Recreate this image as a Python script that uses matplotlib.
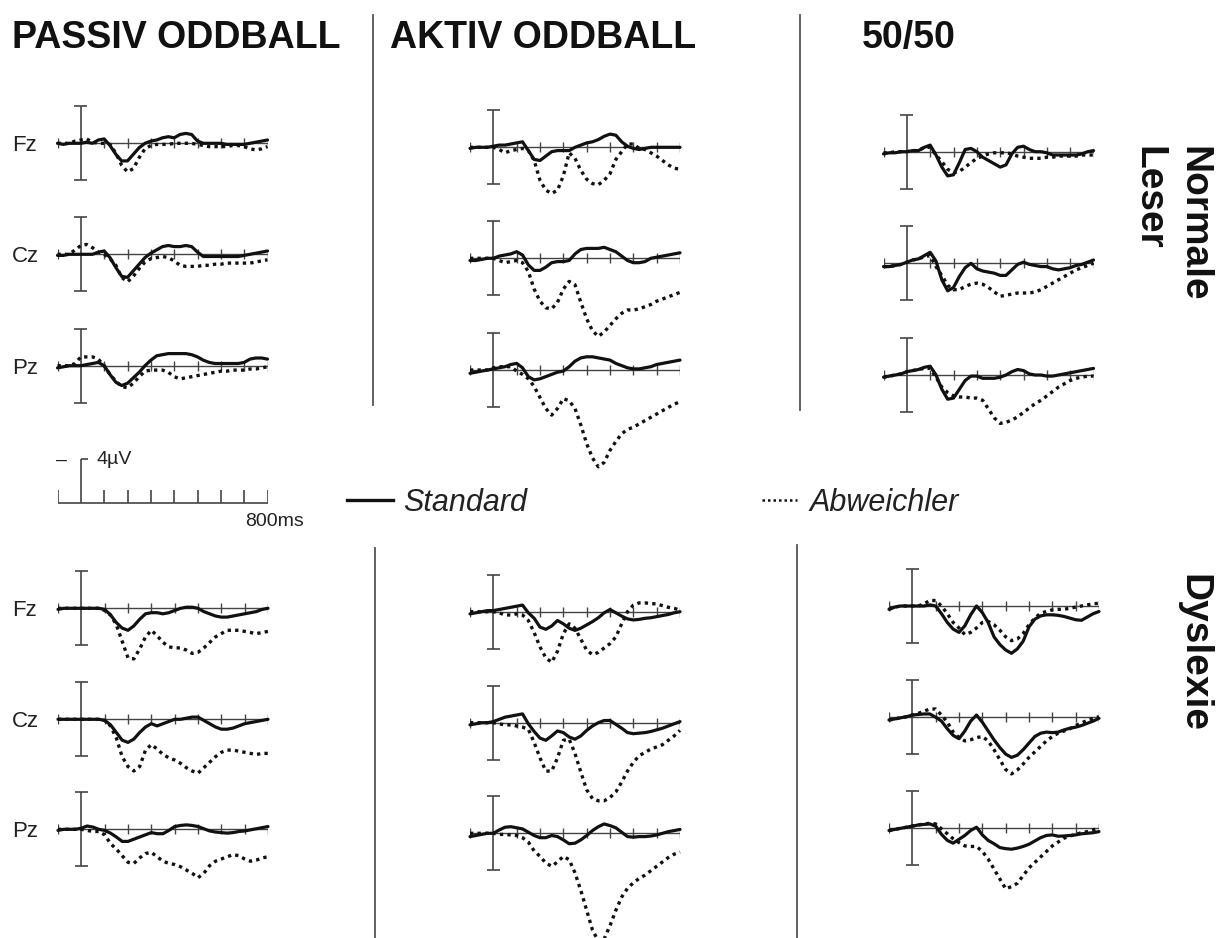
import matplotlib
matplotlib.use("Agg")
import matplotlib.pyplot as plt
from matplotlib.lines import Line2D

plt.rcParams["font.family"] = ["Liberation Sans", "DejaVu Sans"]

# ---- data ----
# one sample every 25 ms, -100 .. 800 ms
t_ms = list(range(-100, 801, 25))

conditions = ["PASSIV ODDBALL", "AKTIV ODDBALL", "50/50"]
groups = ["Normale\nLeser", "Dyslexie"]
electrodes = ["Fz", "Cz", "Pz"]
legend_labels = ["Standard", "Abweichler"]

# amplitudes in µV (plotted negative up); std = Standard, dev = Abweichler
# Passiv oddball, normale Leser
pas_nl_fz_std = [0, 0.1, 0, 0, 0, -0.1, 0, -0.3, -0.4, 0.2, 1.0, 1.6, 1.6, 1.0, 0.4, 0.0, -0.2, -0.3, -0.5, -0.6, -0.5, -0.8, -0.9, -0.8, -0.2, 0, 0, 0, 0, 0.1, 0.1, 0.1, 0.1, 0, -0.1, -0.2, -0.3]
pas_nl_fz_dev = [0, 0, 0, -0.2, -0.3, -0.4, -0.1, 0, 0, 0.1, 0.9, 2.0, 2.6, 2.3, 1.3, 0.5, 0.2, 0.1, 0.1, 0.1, 0, 0, 0, 0, 0.1, 0.2, 0.3, 0.3, 0.3, 0.3, 0.2, 0.2, 0.3, 0.5, 0.6, 0.5, 0.3]
pas_nl_cz_std = [0.1, 0.1, 0, 0, 0, 0, 0, -0.2, -0.3, 0.3, 1.2, 2.0, 2.1, 1.5, 0.9, 0.3, -0.1, -0.4, -0.7, -0.8, -0.7, -0.7, -0.8, -0.7, -0.2, 0.2, 0.2, 0.2, 0.2, 0.2, 0.2, 0.2, 0.1, 0, -0.1, -0.2, -0.3]
pas_nl_cz_dev = [0, 0, 0, -0.4, -0.8, -0.9, -0.6, -0.2, 0, 0.4, 1.0, 2.1, 2.5, 2.0, 1.3, 0.7, 0.4, 0.3, 0.2, 0.3, 0.6, 1.0, 1.1, 1.1, 1.1, 1.0, 1.0, 0.9, 0.9, 0.8, 0.8, 0.8, 0.8, 0.8, 0.7, 0.6, 0.5]
pas_nl_pz_std = [0.2, 0.1, 0, 0, 0, -0.1, -0.2, -0.3, 0, 0.8, 1.5, 1.8, 1.6, 1.1, 0.6, 0, -0.5, -0.9, -1.0, -1.1, -1.1, -1.1, -1.1, -1.0, -0.8, -0.5, -0.3, -0.2, -0.2, -0.2, -0.2, -0.2, -0.3, -0.6, -0.7, -0.7, -0.6]
pas_nl_pz_dev = [0, 0, 0, -0.2, -0.8, -0.8, -0.8, -0.6, 0, 0.8, 1.4, 1.9, 2.0, 1.6, 1.0, 0.5, 0.4, 0.4, 0.4, 0.6, 1.0, 1.2, 1.1, 1.0, 0.9, 0.8, 0.7, 0.6, 0.5, 0.5, 0.4, 0.4, 0.4, 0.3, 0.3, 0.2, 0.1]

# Aktiv oddball, normale Leser
akt_nl_fz_std = [0.1, 0, 0, 0, -0.1, -0.2, -0.2, -0.3, -0.4, -0.5, 0.3, 1.1, 1.2, 0.8, 0.4, 0.3, 0.3, 0.3, 0, -0.2, -0.4, -0.5, -0.7, -1.0, -1.2, -1.1, -0.5, -0.1, 0.1, 0.2, 0.1, 0, 0, 0, 0, 0, 0]
akt_nl_fz_dev = [0, 0, 0, 0, 0, 0.2, 0.5, 0.3, 0.2, 0.1, 0.3, 1.2, 3.0, 3.9, 4.2, 3.9, 2.6, 0.5, 1.0, 2.1, 2.9, 3.3, 3.4, 3.0, 2.4, 1.1, 0.4, -0.3, -0.3, 0.1, 0.2, 0.5, 0.8, 1.2, 1.6, 1.9, 2.0]
akt_nl_cz_std = [0.2, 0.2, 0.1, 0, 0, -0.2, -0.3, -0.4, -0.6, -0.3, 0.6, 1.1, 1.1, 0.8, 0.4, 0.3, 0.3, 0.2, -0.4, -0.8, -0.9, -0.9, -0.9, -1.0, -0.8, -0.6, -0.2, 0.2, 0.4, 0.4, 0.3, 0, -0.1, -0.2, -0.3, -0.4, -0.5]
akt_nl_cz_dev = [0, 0, 0, 0, 0, 0.2, 0.4, 0.3, 0.2, 0.4, 1.2, 2.8, 3.9, 4.5, 4.6, 4.0, 2.8, 2.1, 2.4, 4.0, 5.5, 6.6, 7.1, 6.7, 6.1, 5.5, 5.0, 4.7, 4.7, 4.6, 4.4, 4.2, 3.9, 3.7, 3.5, 3.3, 3.1]
akt_nl_pz_std = [0.3, 0.2, 0.1, 0, -0.1, -0.2, -0.3, -0.5, -0.6, -0.2, 0.6, 0.9, 0.8, 0.6, 0.4, 0.2, 0.1, -0.3, -0.8, -1.1, -1.2, -1.2, -1.1, -1.0, -0.9, -0.6, -0.4, -0.2, -0.1, -0.1, -0.2, -0.3, -0.5, -0.6, -0.7, -0.8, -0.9]
akt_nl_pz_dev = [0, 0, 0, 0, -0.2, -0.3, -0.3, -0.3, 0.1, 0.4, 0.8, 1.5, 2.5, 3.5, 4.1, 3.5, 2.6, 2.8, 3.5, 5.0, 6.7, 8.0, 8.8, 8.4, 7.3, 6.5, 5.8, 5.4, 5.2, 4.9, 4.6, 4.3, 4.0, 3.7, 3.4, 3.1, 2.9]

# 50/50, normale Leser
f50_nl_fz_std = [0.2, 0.1, 0.1, 0, 0, -0.1, -0.1, -0.4, -0.6, 0.3, 1.4, 2.2, 2.1, 1.0, -0.2, -0.3, 0, 0.5, 0.8, 1.1, 1.4, 1.2, 0.2, -0.4, -0.5, -0.2, 0, 0, 0.1, 0.3, 0.3, 0.3, 0.3, 0.3, 0.2, 0, -0.1]
f50_nl_fz_dev = [0.1, 0.1, 0, 0, 0, -0.1, -0.1, -0.4, -0.4, 0.3, 0.9, 1.6, 1.9, 1.8, 1.4, 1.0, 0.6, 0.4, 0.2, 0.1, 0.1, 0.1, 0.2, 0.4, 0.5, 0.6, 0.6, 0.6, 0.5, 0.5, 0.4, 0.4, 0.4, 0.4, 0.3, 0.3, 0.3]
f50_nl_cz_std = [0.3, 0.3, 0.2, 0.1, -0.1, -0.3, -0.4, -0.7, -1.0, -0.2, 1.5, 2.5, 2.2, 1.2, 0.4, 0.0, 0.5, 0.7, 0.8, 0.9, 1.1, 1.1, 0.6, 0.1, -0.1, 0.1, 0.2, 0.3, 0.3, 0.5, 0.6, 0.5, 0.4, 0.2, 0.1, -0.1, -0.3]
f50_nl_cz_dev = [0.3, 0.3, 0.2, 0.1, -0.1, -0.3, -0.4, -0.6, -0.7, 0.3, 1.1, 2.0, 2.4, 2.4, 2.1, 1.9, 1.8, 1.9, 2.2, 2.6, 3.0, 2.9, 2.8, 2.7, 2.7, 2.7, 2.6, 2.4, 2.1, 1.8, 1.5, 1.2, 0.9, 0.6, 0.4, 0.2, 0]
f50_nl_pz_std = [0.2, 0.1, 0, -0.1, -0.3, -0.4, -0.5, -0.7, -0.8, 0, 1.3, 2.2, 2.1, 1.3, 0.5, 0.1, 0.1, 0.3, 0.3, 0.3, 0.2, 0, -0.3, -0.5, -0.4, -0.1, 0, 0, 0.1, 0.1, 0, -0.1, -0.2, -0.3, -0.4, -0.5, -0.6]
f50_nl_pz_dev = [0.2, 0.1, 0, -0.1, -0.3, -0.4, -0.5, -0.6, -0.6, 0.2, 1.1, 1.6, 1.9, 2.0, 2.0, 2.1, 2.1, 2.3, 3.1, 3.9, 4.4, 4.3, 4.1, 3.8, 3.4, 3.0, 2.6, 2.3, 1.9, 1.5, 1.1, 0.8, 0.5, 0.3, 0.2, 0.1, 0.1]

# Passiv oddball, Dyslexie
pas_dy_fz_std = [0.1, 0, 0, 0, 0, 0, 0, 0, 0.1, 0.6, 1.3, 1.8, 2.0, 1.6, 1.0, 0.5, 0.4, 0.4, 0.5, 0.4, 0.2, 0, -0.1, -0.1, 0, 0.3, 0.5, 0.7, 0.8, 0.8, 0.7, 0.6, 0.5, 0.4, 0.3, 0.1, 0]
pas_dy_fz_dev = [0, 0, 0, 0, 0, 0, 0, 0, 0.2, 0.6, 1.5, 3.0, 4.5, 4.6, 3.7, 2.6, 2.0, 2.5, 3.1, 3.5, 3.6, 3.6, 3.8, 4.1, 4.0, 3.6, 3.1, 2.6, 2.3, 2.0, 2.0, 2.0, 2.1, 2.2, 2.3, 2.2, 2.1]
pas_dy_cz_std = [0, 0, 0, 0, 0, 0, 0, 0, 0.1, 0.5, 1.2, 1.9, 2.1, 1.8, 1.2, 0.7, 0.4, 0.6, 0.4, 0.2, 0, 0, -0.1, -0.2, -0.2, 0.1, 0.4, 0.7, 0.9, 0.9, 0.8, 0.6, 0.4, 0.3, 0.2, 0.1, 0]
pas_dy_cz_dev = [0, 0, 0, 0, 0, 0, 0, 0, 0.1, 0.6, 1.7, 3.4, 4.3, 4.7, 4.3, 2.8, 2.3, 2.7, 3.2, 3.5, 3.7, 4.0, 4.4, 4.7, 4.9, 4.4, 3.9, 3.4, 3.0, 2.8, 2.8, 2.9, 3.0, 3.1, 3.2, 3.1, 3.1]
pas_dy_pz_std = [0.1, 0, 0, 0, -0.1, -0.3, -0.2, 0, 0.1, 0.35, 0.7, 1.1, 1.1, 0.9, 0.7, 0.5, 0.3, 0.4, 0.4, 0.1, -0.25, -0.35, -0.4, -0.35, -0.25, -0.05, 0.15, 0.25, 0.3, 0.35, 0.3, 0.2, 0.15, 0.05, -0.05, -0.15, -0.25]
pas_dy_pz_dev = [0, 0, 0, 0, 0, 0.1, 0.2, 0.2, 0.5, 1.3, 1.8, 2.4, 3.0, 3.1, 2.6, 2.2, 2.1, 2.5, 2.9, 3.1, 3.2, 3.4, 3.7, 4.0, 4.4, 4.0, 3.3, 2.9, 2.7, 2.5, 2.3, 2.4, 2.7, 2.9, 2.8, 2.6, 2.5]

# Aktiv oddball, Dyslexie
akt_dy_fz_std = [0.2, 0.1, 0, -0.1, -0.1, -0.2, -0.3, -0.4, -0.5, -0.6, 0.1, 0.6, 1.4, 1.6, 1.3, 0.8, 1.1, 1.5, 1.7, 1.5, 1.2, 0.9, 0.55, 0.1, -0.2, 0.1, 0.4, 0.65, 0.75, 0.7, 0.6, 0.55, 0.45, 0.35, 0.25, 0.1, 0]
akt_dy_fz_dev = [0, 0, 0, 0, 0, 0.1, 0.3, 0.3, 0.2, 0.3, 0.8, 1.9, 3.2, 4.2, 4.6, 3.6, 2.0, 1.1, 1.5, 2.5, 3.5, 3.9, 3.7, 3.3, 2.9, 2.3, 1.1, 0.0, -0.6, -0.8, -0.8, -0.75, -0.7, -0.55, -0.4, -0.3, -0.15]
akt_dy_cz_std = [0.2, 0.1, 0, 0, -0.1, -0.3, -0.5, -0.6, -0.7, -0.8, 0.1, 0.8, 1.4, 1.6, 1.2, 0.75, 0.9, 1.3, 1.5, 1.2, 0.7, 0.3, 0, -0.2, -0.2, 0.15, 0.5, 0.9, 1.0, 0.95, 0.9, 0.8, 0.65, 0.5, 0.3, 0.1, -0.1]
akt_dy_cz_dev = [0, 0, 0, 0, 0, 0.1, 0.2, 0.2, 0.3, 0.4, 0.6, 1.8, 3.2, 4.4, 4.4, 3.2, 1.6, 1.5, 2.8, 4.5, 6.1, 6.9, 7.1, 7.1, 6.8, 6.3, 5.4, 4.4, 3.6, 3.0, 2.7, 2.4, 2.2, 2.0, 1.6, 1.2, 0.7]
akt_dy_pz_std = [0.3, 0.2, 0.1, 0, 0, -0.3, -0.55, -0.6, -0.5, -0.4, -0.1, 0.2, 0.4, 0.4, 0.2, 0.3, 0.6, 0.95, 0.9, 0.6, 0.2, -0.25, -0.6, -0.85, -0.7, -0.5, -0.1, 0.3, 0.35, 0.3, 0.3, 0.25, 0.15, 0, -0.15, -0.25, -0.35]
akt_dy_pz_dev = [0, 0, 0, 0, 0, 0.1, 0.1, 0.15, 0.2, 0.4, 0.8, 1.6, 2.1, 2.7, 3.0, 2.6, 2.1, 2.4, 3.6, 5.2, 7.0, 8.8, 9.8, 9.6, 8.4, 7.0, 5.8, 5.0, 4.5, 4.1, 3.8, 3.4, 3.0, 2.6, 2.2, 1.9, 1.7]

# 50/50, Dyslexie
f50_dy_fz_std = [0.3, 0.1, 0, 0, 0, 0, 0, -0.1, 0, 0.7, 1.5, 2.1, 2.4, 1.8, 0.8, 0, 0.6, 1.5, 2.8, 3.5, 4.0, 4.3, 3.9, 3.2, 1.9, 1.2, 0.9, 0.8, 0.8, 0.85, 0.95, 1.1, 1.25, 1.3, 1.0, 0.7, 0.5]
f50_dy_fz_dev = [0.3, 0.1, 0, 0, 0, 0, -0.2, -0.5, -0.5, 0, 0.7, 1.5, 2.0, 2.6, 2.4, 2.0, 1.5, 1.4, 1.7, 2.2, 2.8, 3.15, 3.0, 2.5, 1.7, 1.1, 0.65, 0.5, 0.35, 0.3, 0.3, 0.2, 0.1, 0, -0.1, -0.2, -0.25]
f50_dy_cz_std = [0.3, 0.2, 0.1, 0, -0.15, -0.2, -0.25, -0.25, 0.05, 0.4, 1.1, 1.7, 2.0, 1.3, 0.4, -0.15, 0.5, 1.3, 2.1, 2.8, 3.4, 3.7, 3.5, 3.0, 2.4, 1.8, 1.5, 1.4, 1.45, 1.4, 1.2, 1.05, 0.95, 0.8, 0.6, 0.4, 0.15]
f50_dy_cz_dev = [0.3, 0.2, 0.1, 0, -0.15, -0.3, -0.5, -0.7, -0.7, -0.15, 0.5, 1.4, 1.9, 2.2, 2.1, 1.9, 1.8, 2.2, 3.0, 3.9, 4.8, 5.2, 4.85, 4.3, 3.7, 3.2, 2.7, 2.2, 1.8, 1.5, 1.3, 1.1, 0.8, 0.55, 0.35, 0.15, 0]
f50_dy_pz_std = [0.2, 0.1, 0, -0.1, -0.2, -0.3, -0.35, -0.4, -0.2, 0.55, 1.1, 1.35, 1.0, 0.65, 0.2, -0.1, 0.6, 1.1, 1.4, 1.75, 1.85, 1.9, 1.8, 1.65, 1.45, 1.15, 0.85, 0.65, 0.6, 0.72, 0.7, 0.65, 0.6, 0.5, 0.45, 0.4, 0.3]
f50_dy_pz_dev = [0.2, 0.1, 0, -0.1, -0.2, -0.3, -0.4, -0.45, -0.4, 0.05, 0.5, 0.95, 1.3, 1.6, 1.65, 1.65, 2.1, 2.8, 3.7, 4.6, 5.5, 5.3, 5.0, 4.3, 3.6, 3.1, 2.6, 2.1, 1.6, 1.25, 0.9, 0.7, 0.55, 0.4, 0.3, 0.15, -0.1]

erp = {
    (0, 0): [(pas_nl_fz_std, pas_nl_fz_dev), (pas_nl_cz_std, pas_nl_cz_dev), (pas_nl_pz_std, pas_nl_pz_dev)],
    (1, 0): [(akt_nl_fz_std, akt_nl_fz_dev), (akt_nl_cz_std, akt_nl_cz_dev), (akt_nl_pz_std, akt_nl_pz_dev)],
    (2, 0): [(f50_nl_fz_std, f50_nl_fz_dev), (f50_nl_cz_std, f50_nl_cz_dev), (f50_nl_pz_std, f50_nl_pz_dev)],
    (0, 1): [(pas_dy_fz_std, pas_dy_fz_dev), (pas_dy_cz_std, pas_dy_cz_dev), (pas_dy_pz_std, pas_dy_pz_dev)],
    (1, 1): [(akt_dy_fz_std, akt_dy_fz_dev), (akt_dy_cz_std, akt_dy_cz_dev), (akt_dy_pz_std, akt_dy_pz_dev)],
    (2, 1): [(f50_dy_fz_std, f50_dy_fz_dev), (f50_dy_cz_std, f50_dy_cz_dev), (f50_dy_pz_std, f50_dy_pz_dev)],
}

# ---- layout (pixels of the 1228x938 picture) ----
W, H = 1228, 938
UV_PX = 11.0           # pixels per µV
PANEL_W = 210          # pixels for -100 .. 800 ms
panel_left = {(0, 0): 57.5, (1, 0): 470, (2, 0): 883.5,
              (0, 1): 58, (1, 1): 470, (2, 1): 889}
panel_base = {(0, 0): [143.3, 254.3, 365.7], (1, 0): [147.3, 258.3, 370], (2, 0): [151.7, 263.3, 375],
              (0, 1): [608.3, 719.3, 829.3], (1, 1): [611.7, 722.7, 833.3], (2, 1): [606, 716.7, 828.3]}
title_x = [12, 390, 862]
tick_ms = [-100, 100, 200, 300, 400, 500, 600, 700, 800]

INK = "#111111"
AXC = "#444444"
DOTS = (0, (1.0, 1.25))

fig = plt.figure(figsize=(W / 100, H / 100), dpi=100)


def erp_axes(left, base):
    top = base - 4.5 * UV_PX
    bottom = base + 10.5 * UV_PX
    ax = fig.add_axes([left / W, 1 - bottom / H, PANEL_W / W, (bottom - top) / H])
    ax.set_xlim(-100, 800)
    ax.set_ylim(10.5, -4.5)
    ax.axis("off")
    ax.patch.set_visible(False)
    return ax


for (ci, gi), traces in erp.items():
    for ei, (std, dev) in enumerate(traces):
        base = panel_base[(ci, gi)][ei]
        ax = erp_axes(panel_left[(ci, gi)], base)
        ax.axhline(0, color=AXC, lw=1.0, zorder=1)
        ax.vlines(tick_ms, -0.45, 0.45, color=AXC, lw=1.0, zorder=1)
        ax.vlines(0, -3.36, 3.36, color=AXC, lw=1.2, zorder=1)
        ax.hlines([-3.36, 3.36], -28, 28, color=AXC, lw=1.2, zorder=1)
        ax.plot(t_ms, dev, color=INK, lw=2.4, ls=DOTS, clip_on=False, zorder=2)
        ax.plot(t_ms, std, color=INK, lw=2.3, solid_joinstyle="round",
                solid_capstyle="round", clip_on=False, zorder=3)
        if ci == 0:
            fig.text(12 / W, 1 - (base + 8) / H, electrodes[ei], fontsize=16,
                     color="#222222", va="baseline", ha="left")

# ---- scale bar ----
sb = erp_axes(57.5, 503)
sb.axhline(0, color=AXC, lw=1.2)
sb.vlines(tick_ms, -1.2, 0, color=AXC, lw=1.2)
sb.vlines(0, -4, 0, color=AXC, lw=1.2)
sb.hlines(-4, 0, 30, color=AXC, lw=1.2)
sb.text(-107, -3.45, "–", fontsize=14, color="#222222", va="baseline", ha="left")
sb.text(68, -3.55, "4µV", fontsize=14, color="#222222", va="baseline", ha="left")
sb.text(956, 2.1, "800ms", fontsize=14, color="#222222", va="baseline", ha="right")

# ---- titles, group labels ----
for ci, name in enumerate(conditions):
    fig.text(title_x[ci] / W, 1 - 48 / H, name, fontsize=27, fontweight="bold",
             va="baseline", ha="left", color="#111111")

fig.text(1211 / W, 1 - 146 / H, groups[0], fontsize=28, fontweight="bold",
         rotation=-90, ha="right", va="top", multialignment="left", linespacing=1.3,
         color="#111111")
fig.text(1211 / W, 1 - 574 / H, groups[1], fontsize=28, fontweight="bold",
         rotation=-90, ha="right", va="top", color="#111111")

# ---- separators ----
for x, y0, y1 in [(373, 15, 405), (375, 548, 938), (800, 15, 410), (797, 545, 938)]:
    fig.add_artist(Line2D([x / W, x / W], [1 - y0 / H, 1 - y1 / H],
                          transform=fig.transFigure, color="#555555", lw=1.3))

# ---- legend ----
leg_font = dict(style="italic", size=22)
h_std = Line2D([], [], color=INK, lw=2.4)
h_dev = Line2D([], [], color=INK, lw=1.8, ls=(0, (1, 1.2)))
fig.legend([h_std], [legend_labels[0]], loc="center left", bbox_to_anchor=(347 / W, 1 - 503 / H),
           frameon=False, prop=leg_font, borderpad=0, borderaxespad=0,
           handlelength=1.5, handletextpad=0.35, labelcolor="#222222")
fig.legend([h_dev], [legend_labels[1]], loc="center left", bbox_to_anchor=(762 / W, 1 - 503 / H),
           frameon=False, prop=leg_font, borderpad=0, borderaxespad=0,
           handlelength=1.15, handletextpad=0.4, labelcolor="#222222")

fig.savefig("out.png", dpi=100)
